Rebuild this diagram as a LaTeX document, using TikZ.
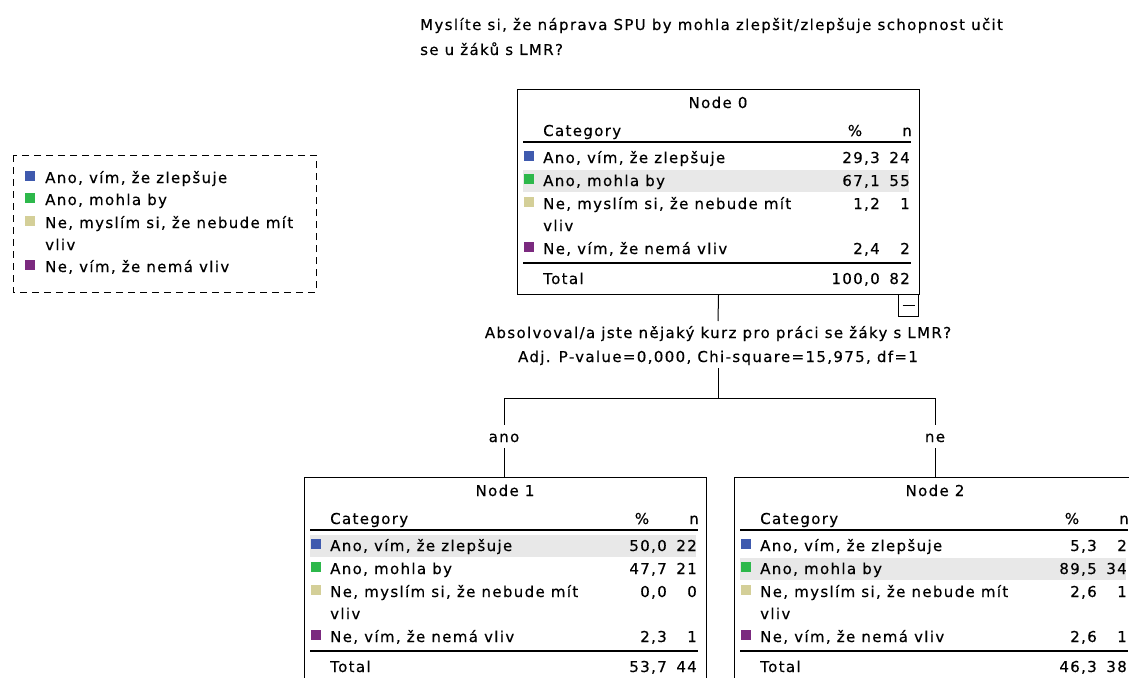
\documentclass[tikz,border=0pt]{standalone}
\usepackage{fontspec}
\newfontfamily\tf[LetterSpace=9,FakeBold=0.4]{DejaVu Sans}
\definecolor{cblue}{HTML}{3F5AAE}
\definecolor{cgreen}{HTML}{2DB84B}
\definecolor{ctan}{HTML}{D4CF98}
\definecolor{cpurple}{HTML}{7B2A7F}
\definecolor{hl}{HTML}{E8E8E8}
\tikzset{
  txt/.style={inner sep=0pt, font=\tf\fontsize{15}{17}\selectfont, anchor=base west},
  txtr/.style={txt, anchor=base east},
  txtc/.style={txt, anchor=base},
  sq/.style={minimum size=10pt, inner sep=0pt, draw=none, rectangle},
  tbox/.style={draw=black, line width=1pt, inner sep=0pt, rectangle, anchor=north west, minimum width=402pt, minimum height=205pt},
  rule/.style={line width=1.2pt},
  conn/.style={line width=1pt},
}
\newcommand\trow[6]{%
  \node[sq, fill=#3] (#1sq) at (12,#2-2) {};
  \node[txt] (#1t) at (26,#2+5) {#4};
  \node[txtr] (#1p) at (363,#2+5) {#5};
  \node[txtr] (#1n) at (393,#2+5) {#6};
}
\newcommand\thead[2]{%
  \node[tbox] (#1) at (0,0) {};
  \node[txtc] (#1title) at (201,19) {#2};
  \node[txt] (#1cat) at (26,47) {Category};
  \node[txtc] (#1pc) at (338,47) {\%};
  \node[txtr] (#1nc) at (395,47) {n};
  \draw[rule] (6,53) -- (394,53);
  \draw[rule] (6,174) -- (394,174);
}
\begin{document}
\begin{tikzpicture}[x=1pt,y=-1pt]
\useasboundingbox (0,0) rectangle (1129,677);
\clip (0,0) rectangle (1129,677);
\fill[white] (0,0) rectangle (1129,677);

% title
\node[txt] (q1) at (420,30) {Myslíte si, že náprava SPU by mohla zlepšit/zlepšuje schopnost učit};
\node[txt] (q2) at (420,55) {se u žáků s LMR?};

% legend
\draw[line width=1pt, dash pattern=on 7pt off 5pt] (13,155) rectangle (316,292);
\node[sq, fill=cblue] (l1sq) at (30,176) {};
\node[txt] (l1) at (45,183) {Ano, vím, že zlepšuje};
\node[sq, fill=cgreen] (l2sq) at (30,198) {};
\node[txt] (l2) at (45,205) {Ano, mohla by};
\node[sq, fill=ctan] (l3sq) at (30,221) {};
\node[txt] (l3) at (45,228) {Ne, myslím si, že nebude mít};
\node[txt] (l3b) at (45,250) {vliv};
\node[sq, fill=cpurple] (l4sq) at (30,265) {};
\node[txt] (l4) at (45,272) {Ne, vím, že nemá vliv};

% Node 0
\begin{scope}[shift={(517,89)}]
  \fill[hl] (6,81) rectangle (392,103);
  \thead{n0}{Node 0}
  \trow{n0r1}{69}{cblue}{Ano, vím, že zlepšuje}{29,3}{24}
  \trow{n0r2}{92}{cgreen}{Ano, mohla by}{67,1}{55}
  \trow{n0r3}{115}{ctan}{Ne, myslím si, že nebude mít}{1,2}{1}
  \node[txt] (n0r3b) at (26,142) {vliv};
  \trow{n0r4}{160}{cpurple}{Ne, vím, že nemá vliv}{2,4}{2}
  \node[txt] (n0tot) at (26,195) {Total};
  \node[txtr] (n0totp) at (363,195) {100,0};
  \node[txtr] (n0totn) at (393,195) {82};
  \node[draw=black, line width=1pt, inner sep=0pt, minimum width=20pt, minimum height=22pt, anchor=north east] (n0minus) at (402,205) {};
  \draw[line width=1pt] ([xshift=-6pt]n0minus.center) -- ([xshift=6pt]n0minus.center);
\end{scope}

% split
\node[txtc] (s1) at (718,338) {Absolvoval/a jste nějaký kurz pro práci se žáky s LMR?};
\node[txtc] (s2) at (718,362) {Adj. P-value=0,000, Chi-square=15,975, df=1};
\coordinate (c1) at (718,321);
\coordinate (c2) at (718,368);
\coordinate (j) at (718,398);
\coordinate (jl) at (504,398);
\coordinate (jr) at (935,398);
\coordinate (a1) at (504,425);
\coordinate (a2) at (504,448);
\coordinate (b1) at (935,425);
\coordinate (b2) at (935,448);
\node[txtc] (ano) at (504,442) {ano};
\node[txtc] (ne) at (935,442) {ne};

% Node 1
\begin{scope}[shift={(304,477)}]
  \fill[hl] (6,58) rectangle (392,80);
  \thead{n1}{Node 1}
  \trow{n1r1}{69}{cblue}{Ano, vím, že zlepšuje}{50,0}{22}
  \trow{n1r2}{92}{cgreen}{Ano, mohla by}{47,7}{21}
  \trow{n1r3}{115}{ctan}{Ne, myslím si, že nebude mít}{0,0}{0}
  \node[txt] (n1r3b) at (26,142) {vliv};
  \trow{n1r4}{160}{cpurple}{Ne, vím, že nemá vliv}{2,3}{1}
  \node[txt] (n1tot) at (26,195) {Total};
  \node[txtr] (n1totp) at (363,195) {53,7};
  \node[txtr] (n1totn) at (393,195) {44};
\end{scope}

% Node 2
\begin{scope}[shift={(734,477)}]
  \fill[hl] (6,81) rectangle (392,103);
  \thead{n2}{Node 2}
  \trow{n2r1}{69}{cblue}{Ano, vím, že zlepšuje}{5,3}{2}
  \trow{n2r2}{92}{cgreen}{Ano, mohla by}{89,5}{34}
  \trow{n2r3}{115}{ctan}{Ne, myslím si, že nebude mít}{2,6}{1}
  \node[txt] (n2r3b) at (26,142) {vliv};
  \trow{n2r4}{160}{cpurple}{Ne, vím, že nemá vliv}{2,6}{1}
  \node[txt] (n2tot) at (26,195) {Total};
  \node[txtr] (n2totp) at (363,195) {46,3};
  \node[txtr] (n2totn) at (393,195) {38};
\end{scope}

% connectors
\draw[conn] (n0.south) -- (c1);
\draw[conn] (c2) -- (j);
\draw[conn] (jl) -- (jr);
\draw[conn] (jl) -- (a1);
\draw[conn] (jr) -- (b1);
\draw[conn] (a2) -- (a2 |- n1.north);
\draw[conn] (b2) -- (b2 |- n2.north);
\end{tikzpicture}
\end{document}
